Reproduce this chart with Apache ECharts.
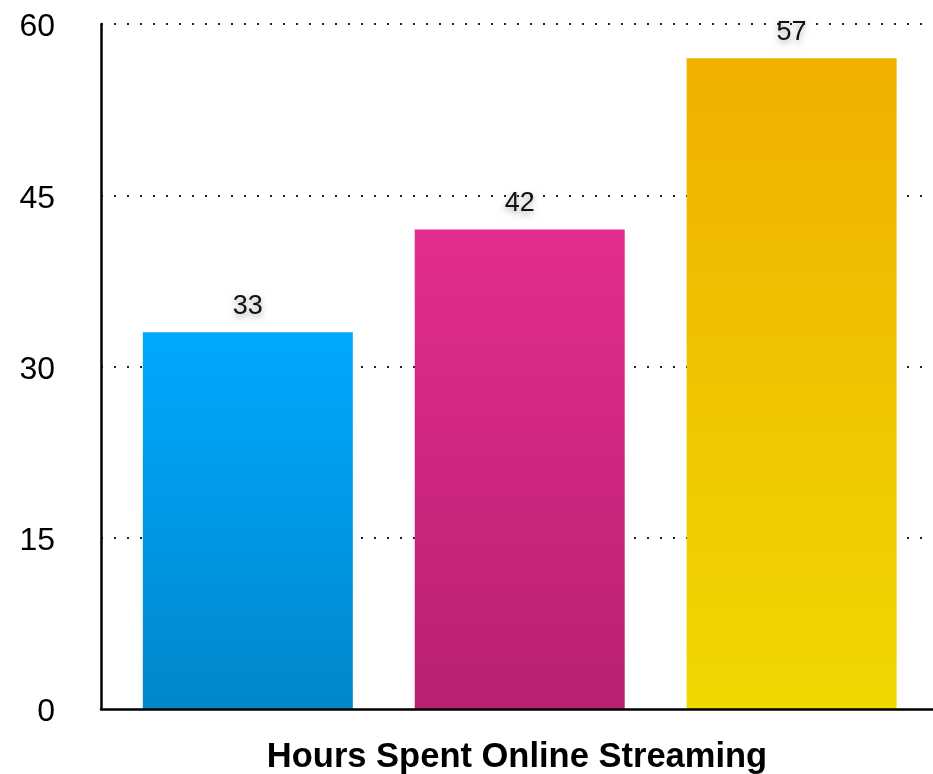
<!DOCTYPE html>
<html>
<head>
<meta charset="utf-8">
<script src="https://cdn.jsdelivr.net/npm/echarts@6/dist/echarts.min.js"></script>
<style>
html,body{margin:0;padding:0;background:#fff;}
#chart{width:933px;height:774px;}
</style>
</head>
<body>
<div id="chart"></div>
<script>
const categories = ['A', 'B', 'C'];
const values = [33, 42, 57];
const yTicks = [0, 15, 30, 45, 60];
const axisTitle = 'Hours Spent Online Streaming';
const gradients = [
  ['#00a9ff', '#0087cb'],
  ['#e22d8f', '#b9206f'],
  ['#f0b000', '#f0d800']
];

const chart = echarts.init(document.getElementById('chart'), null, {renderer: 'canvas'});
const font = "'Liberation Sans', Arial, Helvetica, sans-serif";

chart.setOption({
  animation: false,
  backgroundColor: '#fff',
  grid: {left: 101, right: 0, top: 24, bottom: 65, containLabel: false, outerBoundsMode: 'none'},
  xAxis: {
    type: 'value',
    min: -0.54,
    max: 2.52,
    z: 5,
    axisLine: {show: true, onZero: false, lineStyle: {color: '#000', width: 2.5}},
    axisTick: {show: false},
    axisLabel: {show: false},
    splitLine: {show: false},
    name: axisTitle,
    nameLocation: 'middle',
    nameGap: 31,
    nameTextStyle: {fontFamily: font, fontSize: 34.5, fontWeight: 'bold', color: '#000'}
  },
  yAxis: {
    type: 'value',
    min: yTicks[0],
    max: yTicks[yTicks.length - 1],
    interval: 15,
    axisLine: {show: true, onZero: false, lineStyle: {color: '#000', width: 2.5}},
    axisTick: {show: false},
    axisLabel: {
      fontFamily: font, fontSize: 32, color: '#000', margin: 46,
      formatter: v => '{v|' + v + '}',
      rich: {v: {fontFamily: font, fontSize: 32, color: '#000', padding: [7, 0, 0, 0]}}
    },
    splitLine: {show: true, showMinLine: false, lineStyle: {color: '#222', width: 2, type: [2, 11]}}
  },
  series: [{
    type: 'bar',
    barWidth: 210,
    data: values.map((v, i) => ({
      name: categories[i],
      value: [i, v],
      itemStyle: {
        color: new echarts.graphic.LinearGradient(0, 0, 0, 1, [
          {offset: 0, color: gradients[i][0]},
          {offset: 1, color: gradients[i][1]}
        ])
      }
    })),
    label: {
      show: true,
      position: 'top',
      distance: 12,
      fontFamily: font,
      fontSize: 27,
      color: '#111',
      textShadowColor: 'rgba(0,0,0,0.35)',
      textShadowBlur: 6,
      textShadowOffsetY: 3,
      formatter: p => p.value[1]
    }
  }]
});
</script>
</body>
</html>
